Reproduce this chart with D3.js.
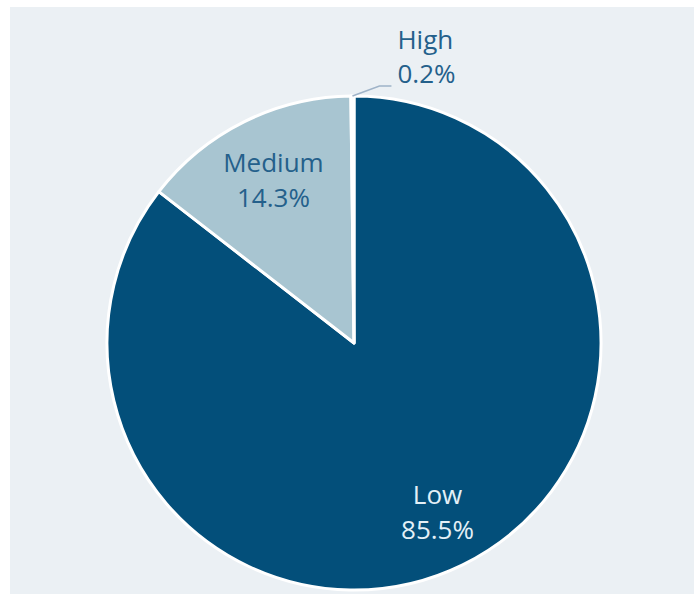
<!DOCTYPE html>
<html>
<head>
<meta charset="utf-8">
<script src="https://cdn.jsdelivr.net/npm/d3@7"></script>
<style>
  html, body { margin: 0; padding: 0; background: #ffffff; }
  svg { display: block; }
</style>
</head>
<body>
<svg id="chart" width="694" height="594"></svg>
<script>
// Risk level share
const categories = ["Low", "Medium", "High"];
const shares = [85.5, 14.3, 0.2];
const labels = ["85.5%", "14.3%", "0.2%"];
const fills = ["#034f7a", "#a8c5d1", "#dbe6ee"];
const textFills = ["#e3f0f7", "#24608b", "#24608b"];

const svg = d3.select("#chart");
const W = 694, H = 594;

// panel background
svg.append("rect")
  .attr("x", 10).attr("y", 7)
  .attr("width", W - 10).attr("height", H - 7)
  .attr("fill", "#ebf0f4");

const cx = 354, cy = 343, R = 247;
const g = svg.append("g").attr("transform", `translate(${cx},${cy})`);

const data = categories.map((c, i) => ({ name: c, value: shares[i], label: labels[i], i }));

const pie = d3.pie().value(d => d.value).sort(null);
const arcs = pie(data);

const arc = d3.arc().innerRadius(0).outerRadius(R);
const labelArc = d3.arc().innerRadius(R * 0.75).outerRadius(R * 0.75);

g.selectAll("path.slice")
  .data(arcs)
  .join("path")
  .attr("class", "slice")
  .attr("d", arc)
  .attr("fill", d => fills[d.data.i])
  .attr("stroke", "#ffffff")
  .attr("stroke-width", 3)
  .attr("stroke-linejoin", "round");

const font = "'Open Sans', 'Noto Sans', sans-serif";
const fontSize = 26;

// inside labels for the large slices
arcs.filter(d => d.data.value > 5).forEach(d => {
  const [x, y] = labelArc.centroid(d);
  const t = g.append("text")
    .attr("text-anchor", "middle")
    .attr("font-family", font)
    .attr("font-size", fontSize)
    .attr("fill", textFills[d.data.i]);
  t.append("tspan").attr("x", x + 2).attr("y", y - 5).text(d.data.name);
  t.append("tspan").attr("x", x + 2).attr("y", y + 30).text(d.data.label);
});

// outside label with leader line for the tiny slice
arcs.filter(d => d.data.value <= 5).forEach(d => {
  const mid = (d.startAngle + d.endAngle) / 2;
  const p0 = [Math.sin(mid) * R, -Math.cos(mid) * R];
  const p1 = [p0[0] + 27, p0[1] - 10];
  const p2 = [p1[0] + 12, p1[1]];
  g.append("polyline")
    .attr("points", [p0, p1, p2].map(p => p.join(",")).join(" "))
    .attr("fill", "none")
    .attr("stroke", "#9fb3c8")
    .attr("stroke-width", 1.5);
  const t = g.append("text")
    .attr("text-anchor", "start")
    .attr("font-family", font)
    .attr("font-size", fontSize)
    .attr("fill", textFills[d.data.i]);
  t.append("tspan").attr("x", p2[0] + 6).attr("y", p2[1] - 37).text(d.data.name);
  t.append("tspan").attr("x", p2[0] + 6).attr("y", p2[1] - 3).text(d.data.label);
});
</script>
</body>
</html>
